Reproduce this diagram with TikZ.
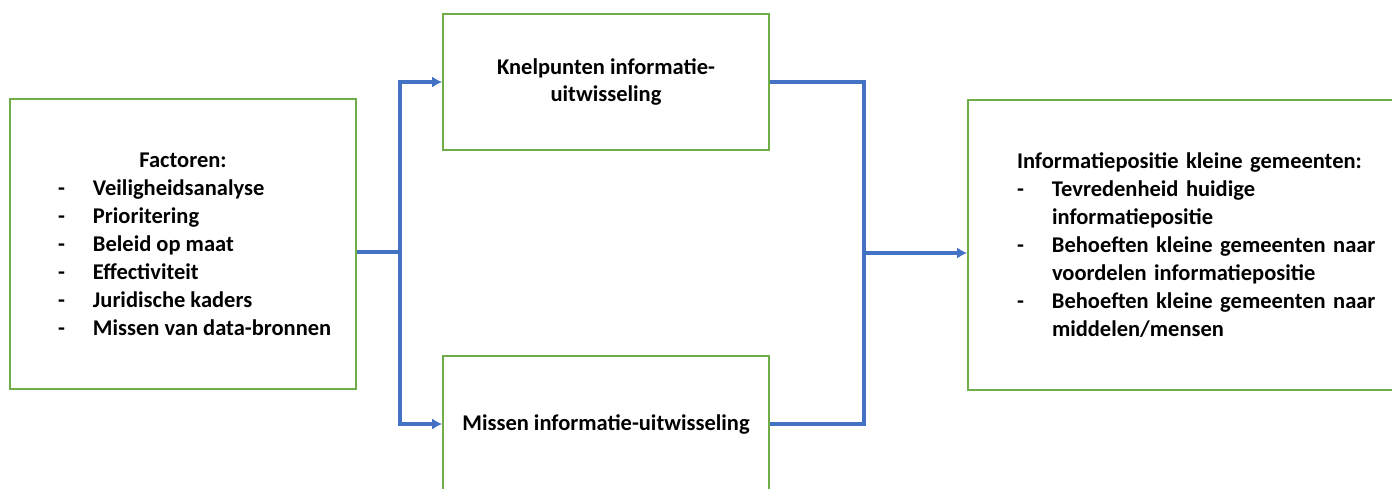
\documentclass[tikz,border=0pt]{standalone}
\usepackage{fontspec}
\setmainfont{Carlito}
\usetikzlibrary{arrows.meta}
\definecolor{kadergroen}{RGB}{112,173,71}
\definecolor{pijlblauw}{RGB}{68,114,196}
\tikzset{
  kader/.style={rectangle, draw=kadergroen, line width=1.4pt, font=\fontsize{16}{19.9}\selectfont\bfseries, text centered},
  pijl/.style={draw=pijlblauw, line width=2.2pt}
}
\newcommand{\opsom}[1]{\makebox[6.25cm][l]{\makebox[0.875cm][l]{-}#1}}
\newcommand{\streep}{\makebox[0.875cm][l]{-}}
\begin{document}
\begin{tikzpicture}[>={Latex[length=7pt,width=8pt]}]
    \useasboundingbox (0,0) rectangle (34.8,12.2);
    \clip (0,0) rectangle (34.8,12.2);

    \node at (4.575,6.1) [kader, minimum width=8.65cm, minimum height=7.25cm, align=center] (factoren)
        {Factoren:\\ \opsom{Veiligheidsanalyse}\\ \opsom{Prioritering}\\ \opsom{Beleid op maat}\\
         \opsom{Effectiviteit}\\ \opsom{Juridische kaders}\\ \opsom{Missen van data-bronnen}};
    \node at (15.15,10.15) [kader, minimum width=8.15cm, minimum height=3.4cm, align=center] (knelpunten)
        {Knelpunten informatie-\\uitwisseling};
    \node at (15.15,1.6) [kader, minimum width=8.15cm, minimum height=3.4cm] (missen)
        {Missen informatie-uitwisseling};
    \node at (30.2125,6.075) [kader, minimum height=7.25cm, text width=9.575cm, inner xsep=1.225cm, align=left] (informatie)
        {Informatiepositie kleine gemeenten:\\
         \streep Tevredenheid huidige\\ \hspace*{0.875cm}informatiepositie\\
         \streep Behoeften kleine gemeenten naar\\ \hspace*{0.875cm}voordelen informatiepositie\\
         \streep Behoeften kleine gemeenten naar\\ \hspace*{0.875cm}middelen/mensen};

    \coordinate (splits) at (10.0,5.9);
    \coordinate (samen) at (21.6,5.875);

    \draw[pijl] (splits -| factoren.east) -- (splits);
    \draw[pijl,->] (splits) |- (knelpunten.west);
    \draw[pijl,->] (splits) |- (missen.west);
    \draw[pijl] (knelpunten.east) -| (samen);
    \draw[pijl] (missen.east) -| (samen);
    \draw[pijl,->] (samen) -- (samen -| informatie.west);

\end{tikzpicture}
\end{document}
